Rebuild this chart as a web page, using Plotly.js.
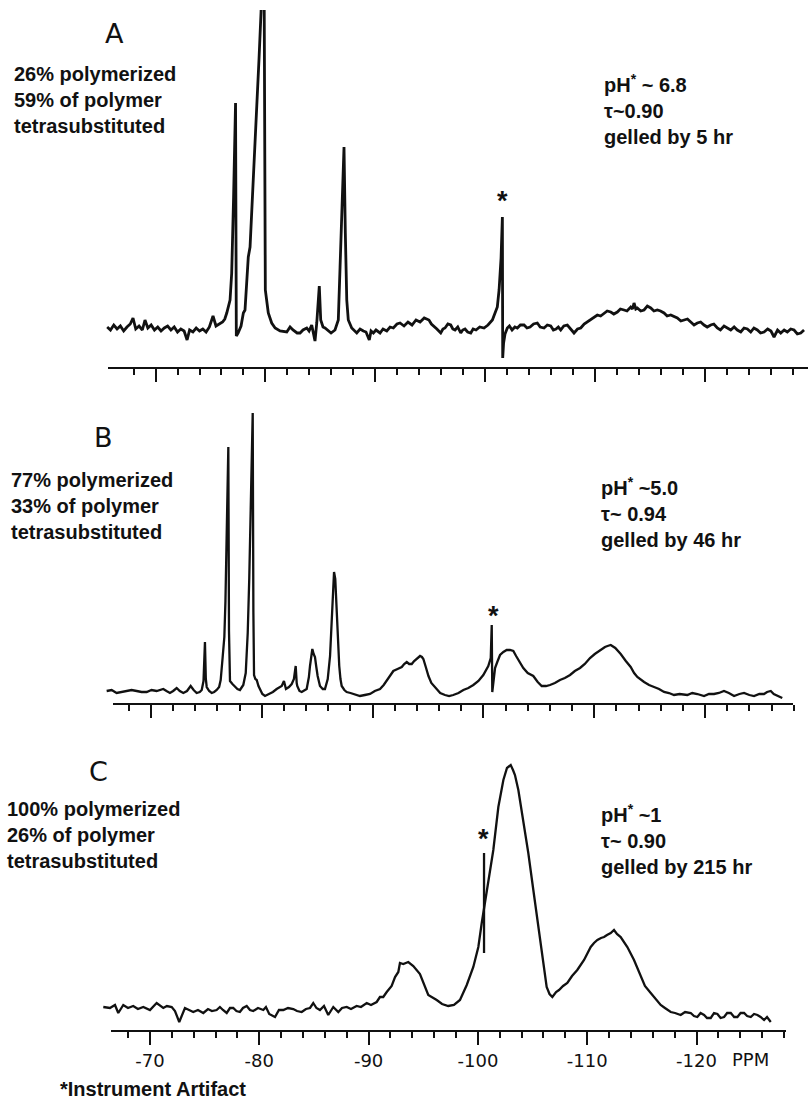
<!DOCTYPE html>
<html>
<head>
<meta charset="utf-8">
<script src="https://cdn.plot.ly/plotly-3.0.1.min.js"></script>
<style>html,body{margin:0;padding:0;background:#fff;}#chart{width:808px;height:1103px;}</style>
</head>
<body>
<div id="chart"></div>
<script>
// ---- Data (chemical shift in ppm, intensity in arbitrary units above baseline) ----
const ppmA = [-65.6,-65.9,-66.2,-66.5,-66.8,-67.1,-67.4,-67.7,-67.95,-68.2,-68.5,-68.8,-69.04,-69.3,-69.6,-69.9,-70.2,-70.5,-70.8,-71.1,-71.4,-71.7,-72.0,-72.3,-72.6,-72.87,-73.1,-73.4,-73.7,-74.0,-74.3,-74.6,-74.9,-75.23,-75.5,-75.8,-76.1,-76.3,
 -76.48,-76.78,-76.93,-77.1,-77.28,-77.35,-77.51,-77.78,-77.99,-78.14,-78.44,-78.6,-78.87,-79.14,-79.42,-79.6,-79.75,-79.89,-79.93,-79.99,-80.26,-80.57,
 -80.88,-81.33,-81.94,-82.24,-82.51,-82.88,-83.15,-83.42,-83.76,-83.97,-84.21,-84.51,-84.67,-84.79,-84.9,-85.03,-85.24,-85.42,-85.7,-85.97,-86.33,-86.63,-86.79,-86.97,-87.15,-87.27,-87.4,-87.54,-87.85,-88.31,-88.61,-88.91,-89.15,-89.45,-89.61,-89.82,-90.06,-90.43,-90.7,-91.04,-91.34,-91.64,-91.97,-92.25,-92.61,-92.97,-93.34,-93.7,-94.07,-94.45,-94.88,-95.1,-95.34,-95.6,-95.95,-96.15,-96.34,-96.6,-96.86,-97.05,-97.25,-97.5,-97.77,-97.95,-98.16,-98.4,-98.68,-98.9,-99.16,-99.5,-99.89,-100.25,-100.65,-101.1,-101.26,-101.44,-101.56,-101.59,-101.67,-101.8,-102.01,-102.2,-102.44,-102.7,-102.92,-103.2,-103.53,-103.8,-104.08,-104.4,-104.74,-105.0,-105.35,-105.65,-105.96,-106.2,-106.44,-106.65,-106.87,-107.15,-107.47,-107.8,-108.08,-108.4,-108.69,-109.0,-109.29,-109.5,-109.72,-109.95,-110.2,-110.5,-110.81,-111.1,-111.42,-111.7,-112.02,-112.3,-112.63,-112.9,-113.24,-113.4,-113.54,-113.7,-113.84,-114.15,-114.45,-114.75,-115.06,-115.35,-115.66,-115.95,-116.27,-116.55,-116.88,-117.2,-117.48,-117.8,-118.09,-118.4,-118.7,-119.0,-119.3,-119.6,-119.91,-120.2,-120.52,-120.8,-121.12,-121.4,-121.73,-122.05,-122.34,-122.65,-122.94,-123.25,-123.55,-123.85,-124.16,-124.45,-124.76,-125.05,-125.37,-125.7,-126.0,-126.28,-126.6,-126.89,-127.2,-127.49,-127.8,-128.1,-128.4,-128.71,-129.01];
const intA = [1,-2,3,-1,2,-3,1,4,10,-1,2,-2,8,0,3,-2,1,-3,0,2,-2,1,-4,-1,-3,-12,-2,-4,0,-3,-1,-4,1,12,2,4,6,9,
 15,28,55,130,225,-8,-5,2,15,18,71,81,140,205,270,316,365,318,101,38,15,5,
 0,-3,-4,1,-2,-5,-5,-2,0,-3,3,-13,5,20,42,8,1,0,-3,-5,-2,8,61,120,181,95,28,8,0,-5,-1,-3,-4,-12,-3,-5,-2,-5,-1,-3,1,0,4,5,2,6,3,8,6,10,8,4,2,-1,-5,-1,0,4,3,-1,-2,1,-5,-2,-1,-4,-5,-1,-2,1,0,3,8,21,38,70,111,-30,-15,-6,0,2,-2,1,0,3,3,0,1,4,5,1,0,3,2,-2,-1,1,-2,2,3,-1,-5,-1,0,4,6,8,9,11,13,12,15,17,16,14,16,19,18,17,21,19,25,19,20,17,18,22,20,17,18,17,15,12,13,11,10,7,8,9,6,3,5,6,3,1,3,4,0,-2,2,0,-2,1,-2,-4,0,-1,-4,0,-2,-5,-4,-1,-3,-9,-2,-5,-2,-4,-1,-2,-6,-5,-2];

const ppmB = [-66.0,-66.45,-66.9,-67.35,-67.81,-68.25,-68.71,-69.15,-69.61,-70.05,-70.51,-70.8,-71.11,-71.4,-71.71,-72.0,-72.32,-72.6,-72.92,-73.25,-73.58,-73.85,-74.12,-74.4,-74.58,-74.74,-74.87,-74.95,-75.03,-75.25,-75.48,-75.7,-75.93,-76.15,-76.29,-76.47,-76.62,-76.72,-76.81,-76.9,-76.98,-77.04,-77.13,-77.35,-77.58,-77.8,-78.03,-78.33,-78.55,-78.73,-78.87,-79.03,-79.18,-79.24,-79.3,-79.42,-79.54,-79.7,-79.84,-80.05,-80.29,-80.5,-80.74,-81.0,-81.34,-81.6,-81.8,-82.0,-82.1,-82.18,-82.45,-82.7,-82.9,-83.06,-83.15,-83.2,-83.4,-83.6,-84.05,-84.25,-84.35,-84.45,-84.56,-84.68,-84.8,-84.92,-85.04,-85.25,-85.5,-85.7,-85.95,-86.16,-86.36,-86.52,-86.63,-86.81,-86.99,-87.1,-87.21,-87.45,-87.66,-88.0,-88.26,-88.6,-88.86,-89.3,-89.77,-90.2,-90.67,-91.0,-91.27,-91.6,-91.87,-92.25,-92.63,-92.85,-93.08,-93.3,-93.53,-93.75,-93.98,-94.15,-94.28,-94.45,-94.58,-94.8,-95.04,-95.3,-95.64,-96.1,-96.53,-96.9,-97.28,-97.75,-98.19,-98.64,-99.09,-99.55,-99.99,-100.25,-100.44,-100.66,-100.75,-100.8,-100.9,-101.05,-101.25,-101.5,-101.8,-102.1,-102.4,-102.7,-102.95,-103.15,-103.4,-103.6,-104.0,-104.5,-104.9,-105.26,-105.65,-106.01,-106.45,-106.91,-107.35,-107.82,-108.25,-108.72,-109.15,-109.62,-110.05,-110.52,-110.97,-111.2,-111.49,-111.9,-112.39,-112.85,-113.29,-113.6,-113.89,-114.5,-114.95,-115.4,-115.85,-116.3,-116.75,-117.2,-117.7,-118.4,-118.85,-119.31,-119.91,-120.35,-120.81,-121.25,-121.71,-122.15,-122.62,-123.1,-123.52,-124.0,-124.42,-124.9,-125.32,-125.6,-125.93,-126.2,-126.52,-126.97];
const intB = [0,1,-2,-1,0,1,0,-1,-1,1,0,1,2,0,-2,0,3,0,-2,0,5,1,-2,-1,1,10,49,12,4,0,-2,-1,1,4,11,34,54,90,150,200,244,60,10,7,4,2,1,6,18,58,113,200,278,80,16,12,11,5,1,-3,-5,-4,-3,-1,2,4,5,10,4,2,4,7,12,25,8,5,0,-1,2,14,25,35,42,37,34,24,15,5,2,2,12,35,92,119,112,65,25,12,5,1,-1,-2,-3,-4,-5,-4,-3,0,2,6,10,15,20,22,24,27,29,27,27,30,32,34,35,34,32,24,15,8,4,-2,-4,-5,-4,-2,1,3,6,10,16,21,25,33,66,-1,12,23,29,36,39,41,41,40,35,31,27,23,18,15,9,5,5,6,8,11,13,16,20,23,27,33,37,41,44,45,46,43,37,30,24,18,14,9,6,4,2,-1,-2,-4,-3,-4,-2,-3,-5,-3,-3,-2,0,-2,-5,-3,-2,-4,-5,-3,-3,-1,0,-3,-5,-7];

const ppmC = [-65.73,-66.34,-66.8,-67.1,-67.56,-67.99,-68.47,-68.9,-69.39,-70.0,-70.61,-71.22,-71.55,-71.99,-72.29,-72.68,-73.2,-73.57,-73.96,-74.39,-74.88,-75.31,-75.67,-76.1,-76.4,-76.68,-77.02,-77.32,-77.62,-77.91,-78.23,-78.51,-78.85,-79.15,-79.45,-79.88,-80.37,-80.61,-80.91,-81.44,-81.8,-82.2,-82.63,-83.11,-83.45,-83.88,-84.27,-84.64,-84.94,-85.23,-85.55,-85.92,-86.31,-86.77,-87.23,-87.57,-88.0,-88.39,-88.91,-89.3,-89.83,-90.22,-90.74,-91.04,-91.34,-91.66,-92.11,-92.42,-92.72,-92.87,-93.17,-93.63,-94.09,-94.7,-95.16,-95.46,-96.23,-96.72,-97.29,-97.81,-98.36,-98.98,-99.58,-100.04,-100.35,-100.65,-100.95,-101.41,-101.87,-102.33,-102.66,-103.0,-103.21,-103.39,-103.7,-104.15,-104.61,-105.07,-105.53,-105.98,-106.29,-106.55,-106.81,-107.15,-107.42,-107.79,-108.18,-108.61,-109.09,-109.71,-110.07,-110.32,-110.62,-110.93,-111.26,-111.54,-111.81,-112.15,-112.45,-112.72,-113.06,-113.67,-114.28,-114.89,-115.28,-115.81,-116.2,-116.72,-117.11,-117.64,-118.03,-118.55,-118.95,-119.47,-119.77,-120.07,-120.37,-120.69,-120.96,-121.3,-121.6,-121.91,-122.2,-122.52,-122.8,-123.13,-123.44,-123.74,-124.03,-124.35,-124.63,-124.96,-125.26,-125.57,-125.86,-126.18,-126.45,-126.79];
const intC = [1,0,3,-5,3,0,2,-1,1,-2,5,0,2,1,-3,-14,0,-2,-4,-2,-5,-1,-3,-2,1,-2,-5,0,0,-3,-4,0,2,-2,-3,0,-2,1,-6,-9,-2,-2,0,-1,-3,-4,-1,0,5,0,-2,2,-7,1,-4,0,1,-1,2,1,5,3,6,11,11,16,22,31,36,45,44,46,42,34,21,13,8,4,2,3,8,23,41,61,85,105,128,158,201,228,240,243,238,233,218,188,155,118,81,41,21,14,11,16,18,22,25,32,38,48,55,61,65,68,70,71,73,75,78,74,71,61,48,31,22,15,10,3,0,-4,-5,-7,-4,-5,-8,-9,-5,-7,-10,-10,-5,-6,-10,-9,-5,-5,-9,-9,-5,-5,-8,-9,-6,-7,-9,-12,-9,-14];
// instrument artifact spike drawn separately in spectrum C
const artifactCppm = [-100.56,-100.56];
const artifactCint = [155,55];

// axis ticks
const majorTicks = [-70,-80,-90,-100,-110,-120];
const majorLabels = ['-70','-80','-90','-100','-110','-120'];
const minorTicks = [-68,-72,-74,-76,-78,-82,-84,-86,-88,-92,-94,-96,-98,-102,-104,-106,-108,-112,-114,-116,-118,-122,-124,-126,-128];

// panel texts
const panelLetters = ['A','B','C'];
const leftTexts = ['26% polymerized<br>59% of polymer<br>tetrasubstituted',
                   '77% polymerized<br>33% of polymer<br>tetrasubstituted',
                   '100% polymerized<br>26% of polymer<br>tetrasubstituted'];
const rightTexts = ['pH<sup>*</sup> ~ 6.8<br>τ~0.90<br>gelled by 5 hr',
                    'pH<sup>*</sup> ~5.0<br>τ~ 0.94<br>gelled by 46 hr',
                    'pH<sup>*</sup> ~1<br>τ~ 0.90<br>gelled by 215 hr'];
// artifact positions (ppm, intensity at top)
const artifactPpm = [-101.6, -100.89, -100.49];
const artifactTop = [111, 64, 155];

// ---- Layout ----
const W = 808, H = 1103;
const ink = '#111';
const lineStyle = {color: ink, width: 2.3};
const traces = [
  {x: ppmA, y: intA, xaxis: 'x', yaxis: 'y', mode: 'lines', line: {color: ink, width: 2.8}, hoverinfo: 'skip'},
  {x: ppmB, y: intB, xaxis: 'x2', yaxis: 'y2', mode: 'lines', line: lineStyle, hoverinfo: 'skip'},
  {x: ppmC, y: intC, xaxis: 'x3', yaxis: 'y3', mode: 'lines', line: lineStyle, hoverinfo: 'skip'},
  {x: artifactCppm, y: artifactCint, xaxis: 'x3', yaxis: 'y3', mode: 'lines', line: lineStyle, hoverinfo: 'skip'}
];

function px(x) { return x / W; }
function py(y) { return 1 - y / H; }

function xax(dom, rng, anchor, labels) {
  return {
    domain: dom, range: rng, anchor: anchor,
    showline: false, showgrid: false, zeroline: false,
    tickmode: 'array', tickvals: majorTicks, ticktext: majorLabels,
    ticks: 'outside', ticklen: 13, tickwidth: 2, tickcolor: ink,
    showticklabels: labels,
    tickfont: {family: 'DejaVu Sans, sans-serif', size: 18, color: ink},
    minor: {tickmode: 'array', tickvals: minorTicks, ticks: 'outside', ticklen: 6, tickwidth: 2, tickcolor: ink, showgrid: false},
    fixedrange: true
  };
}
function yax(dom, rng, anchor) {
  return {domain: dom, range: rng, anchor: anchor, visible: false, showgrid: false, zeroline: false, fixedrange: true};
}

const axisY = [368, 704, 1031];
const textFont = {family: 'Liberation Sans, Arial, sans-serif', size: 20, color: ink, weight: 'bold'};
const layout = {
  width: W, height: H,
  margin: {l: 0, r: 0, t: 0, b: 0},
  paper_bgcolor: '#fff', plot_bgcolor: 'rgba(0,0,0,0)',
  showlegend: false,
  font: {family: 'Liberation Sans, Arial, sans-serif', color: ink},
  xaxis: xax([px(104), 1], [-65.31, -129.37], 'y', false),
  yaxis: yax([py(368), py(10)], [-40, 318], 'x'),
  xaxis2: xax([px(104), px(800)], [-65.76, -128.57], 'y2', false),
  yaxis2: yax([py(704), py(400)], [-13, 291], 'x2'),
  xaxis3: xax([px(100), px(790)], [-65.43, -128.55], 'y3', true),
  yaxis3: yax([py(1031), py(740)], [-23, 268], 'x3'),
  shapes: [
    {type: 'line', xref: 'paper', yref: 'paper', x0: px(108), x1: 1, y0: py(axisY[0]), y1: py(axisY[0]), line: {color: ink, width: 2}},
    {type: 'line', xref: 'paper', yref: 'paper', x0: px(113), x1: px(793), y0: py(axisY[1]), y1: py(axisY[1]), line: {color: ink, width: 2}},
    {type: 'line', xref: 'paper', yref: 'paper', x0: px(111), x1: px(786), y0: py(axisY[2]), y1: py(axisY[2]), line: {color: ink, width: 2}}
  ],
  annotations: []
};

const letterPos = [[115, 33], [103, 438], [98, 771]];
const leftPos = [[12, 100], [9, 506], [5, 835]];
const rightPos = [[602, 109], [599, 512.5], [599, 839.5]];
const ax = ['x', 'x2', 'x3'], ay = ['y', 'y2', 'y3'];
const starShift = [16, 11, 14];
for (let i = 0; i < 3; i++) {
  layout.annotations.push({text: panelLetters[i], xref: 'paper', yref: 'paper', x: px(letterPos[i][0]), y: py(letterPos[i][1]),
    xanchor: 'center', yanchor: 'middle', showarrow: false, font: {family: 'DejaVu Sans, sans-serif', size: 27, color: ink}});
  layout.annotations.push({text: leftTexts[i], xref: 'paper', yref: 'paper', x: px(leftPos[i][0]), y: py(leftPos[i][1]),
    xanchor: 'left', yanchor: 'middle', align: 'left', showarrow: false, font: textFont});
  layout.annotations.push({text: rightTexts[i], xref: 'paper', yref: 'paper', x: px(rightPos[i][0]), y: py(rightPos[i][1]),
    xanchor: 'left', yanchor: 'middle', align: 'left', showarrow: false, font: textFont});
  layout.annotations.push({text: '*', xref: ax[i], yref: ay[i], x: artifactPpm[i], y: artifactTop[i], yshift: starShift[i],
    xanchor: 'center', yanchor: 'middle', showarrow: false, font: {family: 'Liberation Sans, Arial, sans-serif', size: 27, color: ink, weight: 'bold'}});
}
layout.annotations.push({text: 'PPM', xref: 'paper', yref: 'paper', x: px(750), y: py(1059), xanchor: 'center', yanchor: 'middle',
  showarrow: false, font: {family: 'DejaVu Sans, sans-serif', size: 18, color: ink}});
layout.annotations.push({text: '*Instrument Artifact', xref: 'paper', yref: 'paper', x: px(58), y: py(1089), xanchor: 'left', yanchor: 'middle',
  showarrow: false, font: textFont});

Plotly.newPlot('chart', traces, layout, {staticPlot: true, displayModeBar: false});
</script>
</body>
</html>
